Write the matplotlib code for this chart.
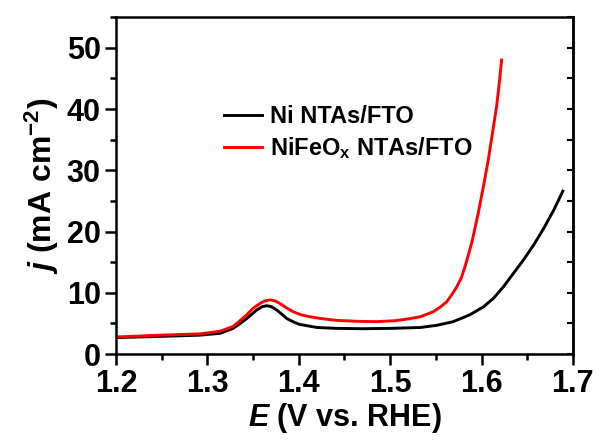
import numpy as np
import matplotlib
matplotlib.use("Agg")
import matplotlib.pyplot as plt
from matplotlib.ticker import MultipleLocator

plt.rcParams['font.family'] = ['Liberation Sans', 'DejaVu Sans']
plt.rcParams['font.weight'] = 'bold'
plt.rcParams['mathtext.fontset'] = 'custom'
plt.rcParams['mathtext.rm'] = 'Liberation Sans:bold'
plt.rcParams['mathtext.bf'] = 'Liberation Sans:bold'
plt.rcParams['mathtext.it'] = 'Liberation Sans:bold:italic'

# Ni NTAs/FTO (black)
E_ni = [1.200, 1.250, 1.292, 1.314, 1.328, 1.336, 1.343, 1.354, 1.360, 1.365,
        1.370, 1.376, 1.387, 1.395, 1.401, 1.420, 1.442, 1.470, 1.500, 1.533,
        1.551, 1.569, 1.587, 1.602, 1.613, 1.624, 1.635, 1.646, 1.657, 1.668,
        1.679, 1.689]
j_ni = [2.7, 2.9, 3.1, 3.4, 4.2, 5.0, 5.8, 7.2, 7.75, 7.9,
        7.75, 7.2, 5.8, 5.2, 4.85, 4.35, 4.2, 4.15, 4.2, 4.35,
        4.7, 5.3, 6.4, 7.7, 9.1, 11.0, 13.2, 15.4, 17.8, 20.5,
        23.5, 26.6]

# NiFeOx NTAs/FTO (red)
E_fe = [1.200, 1.250, 1.292, 1.314, 1.328, 1.336, 1.343, 1.350, 1.358, 1.363,
        1.369, 1.374, 1.379, 1.386, 1.394, 1.403, 1.412, 1.425, 1.442, 1.465,
        1.485, 1.505, 1.520, 1.533, 1.547, 1.555, 1.562, 1.567, 1.573, 1.578,
        1.582, 1.586, 1.590, 1.5964, 1.602, 1.6074, 1.612, 1.6165, 1.6194, 1.622]
j_fe = [2.8, 3.1, 3.3, 3.75, 4.5, 5.5, 6.4, 7.5, 8.3, 8.7,
        8.85, 8.7, 8.3, 7.6, 6.9, 6.4, 6.1, 5.8, 5.5, 5.35,
        5.3, 5.45, 5.75, 6.1, 6.9, 7.7, 8.55, 9.6, 11.0, 12.5,
        14.3, 16.4, 18.6, 23.0, 27.3, 31.7, 36.1, 40.4, 44.2, 48.0]

labels = ['Ni NTAs/FTO', r'NiFeO$_\mathrm{x}$ NTAs/FTO']

fig = plt.figure(figsize=(5.98, 4.41), dpi=100)
ax = fig.add_axes([0.194, 0.197, 0.764, 0.764])

ax.plot(E_ni, j_ni, color='black', lw=2.1, solid_joinstyle='round', label=labels[0])
ax.plot(E_fe, j_fe, color='#ff0000', lw=2.1, solid_joinstyle='round', label=labels[1])

ax.set_xlim(1.2, 1.7)
ax.set_ylim(0, 55)
ax.xaxis.set_major_locator(MultipleLocator(0.1))
ax.xaxis.set_minor_locator(MultipleLocator(0.05))
ax.yaxis.set_major_locator(MultipleLocator(10))
ax.yaxis.set_minor_locator(MultipleLocator(5))
ax.tick_params(which='both', direction='out', width=1.8, labelsize=22,
               top=False, right=False)
ax.tick_params(which='major', length=8, pad=3)
ax.tick_params(which='minor', length=4)
for s in ax.spines.values():
    s.set_linewidth(1.8)

# inward ticks on the right spine
sec = ax.secondary_yaxis('right')
sec.yaxis.set_major_locator(MultipleLocator(10))
sec.yaxis.set_minor_locator(MultipleLocator(5))
sec.tick_params(which='both', direction='in', length=4, width=1.5,
                labelright=False)
sec.spines['right'].set_linewidth(1.8)

ax.set_xlabel(r'$\it{E}$ (V vs. RHE)', fontsize=22, fontweight='bold', labelpad=1)
ax.set_ylabel(r'$\it{j}$ (mA cm$^{-2}$)', fontsize=23, fontweight='bold', labelpad=4)

leg = ax.legend(loc='center left', bbox_to_anchor=(0.236, 0.655), frameon=False,
                fontsize=17, handlelength=1.6, handletextpad=0.35,
                labelspacing=0.3, borderpad=0, borderaxespad=0)

fig.savefig('out.png', dpi=100)
